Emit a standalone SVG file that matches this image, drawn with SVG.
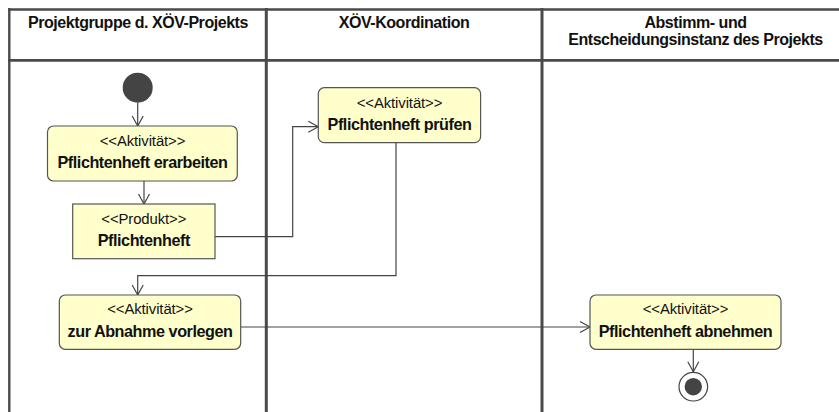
<svg xmlns="http://www.w3.org/2000/svg" width="839" height="412" viewBox="0 0 839 412">
<style>
.frame{stroke:#4a4a4a;fill:none}
.hdr{font-family:"Liberation Sans",Arial,sans-serif;font-weight:bold;font-size:16px;letter-spacing:-0.45px;fill:#111;text-anchor:middle}
.st{font-family:"Liberation Sans",Arial,sans-serif;font-size:14.9px;letter-spacing:-0.1px;fill:#111;text-anchor:middle}
.nm{font-family:"Liberation Sans",Arial,sans-serif;font-weight:bold;font-size:16.2px;letter-spacing:-0.45px;fill:#111;text-anchor:middle}
.box{fill:#ffffcc;stroke:#555;stroke-width:1.2}
.con{fill:none;stroke:#444;stroke-width:1.2;marker-end:url(#arr)}
</style>
<defs>
<marker id="arr" markerUnits="userSpaceOnUse" markerWidth="14" markerHeight="14" viewBox="-12 -7 14 14" refX="0" refY="0" orient="auto">
<path d="M-10,-5.5 L0,0 L-10,5.5" fill="none" stroke="#444" stroke-width="1.2"/>
</marker>
</defs>
<rect x="0" y="0" width="839" height="412" fill="#fff"/>
<g id="lanes">
<line class="frame" x1="8" y1="9.5" x2="839" y2="9.5" stroke-width="2.4"/>
<line class="frame" x1="9.3" y1="8" x2="9.3" y2="412" stroke-width="2.4"/>
<line class="frame" x1="8" y1="60.4" x2="839" y2="60.4" stroke-width="2.6"/>
<line class="frame" x1="266.3" y1="8" x2="266.3" y2="412" stroke-width="3"/>
<line class="frame" x1="542" y1="8" x2="542" y2="412" stroke-width="3"/>
<text class="hdr" x="138" y="28">Projektgruppe d. XÖV-Projekts</text>
<text class="hdr" x="404" y="28">XÖV-Koordination</text>
<text class="hdr" x="695.5" y="28">Abstimm- und</text>
<text class="hdr" x="695.5" y="45">Entscheidungsinstanz des Projekts</text>
</g>
<g id="connectors">
<path class="con" d="M137.7,102.7 L137.7,126"/>
<path class="con" d="M144,181 L144,204"/>
<path class="con" d="M215,236.7 L292.7,236.7 L292.7,126.7 L318.3,126.7"/>
<path class="con" d="M396,142.7 L396,275.7 L137.7,275.7 L137.7,295"/>
<path class="con" d="M240.7,327 L590,327"/>
<path class="con" d="M693.3,349.3 L693.3,371.7"/>
</g>
<g id="start">
<circle cx="137.7" cy="87.7" r="15" fill="#444"/>
</g>
<g id="act-erarbeiten">
<rect class="box" x="47.5" y="126" width="189.8" height="55" rx="6"/>
<text class="st" x="142.5" y="146">&lt;&lt;Aktivität&gt;&gt;</text>
<text class="nm" x="142.5" y="168">Pflichtenheft erarbeiten</text>
</g>
<g id="prod-pflichtenheft">
<rect class="box" x="72.7" y="204" width="142.3" height="54.7"/>
<text class="st" x="143.8" y="224">&lt;&lt;Produkt&gt;&gt;</text>
<text class="nm" x="143.8" y="246">Pflichtenheft</text>
</g>
<g id="act-pruefen">
<rect class="box" x="318.3" y="87.7" width="162.3" height="55" rx="6"/>
<text class="st" x="399.5" y="107.5">&lt;&lt;Aktivität&gt;&gt;</text>
<text class="nm" x="399.5" y="129.7">Pflichtenheft prüfen</text>
</g>
<g id="act-vorlegen">
<rect class="box" x="59.3" y="295" width="181.4" height="54.3" rx="6"/>
<text class="st" x="150" y="314">&lt;&lt;Aktivität&gt;&gt;</text>
<text class="nm" x="150" y="336.5">zur Abnahme vorlegen</text>
</g>
<g id="act-abnehmen">
<rect class="box" x="590" y="295" width="191" height="54.3" rx="6"/>
<text class="st" x="685.5" y="313.5">&lt;&lt;Aktivität&gt;&gt;</text>
<text class="nm" x="685.5" y="336.5">Pflichtenheft abnehmen</text>
</g>
<g id="end">
<circle cx="693.3" cy="386.7" r="14.3" fill="#fff" stroke="#444" stroke-width="1.2"/>
<circle cx="693.3" cy="386.7" r="8.7" fill="#444"/>
</g>
</svg>
